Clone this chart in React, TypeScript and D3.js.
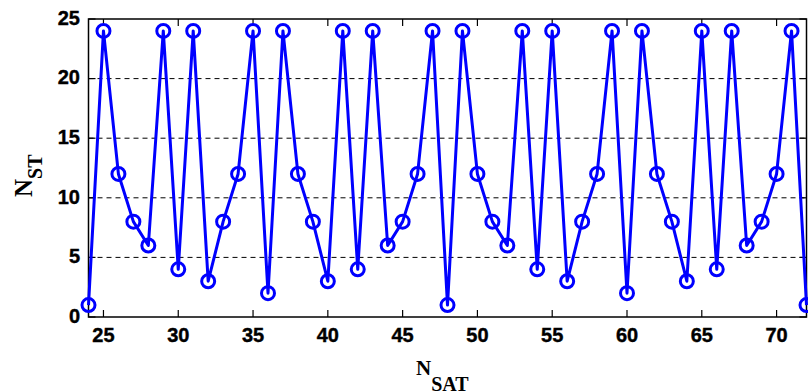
import React from "react";
import * as d3 from "d3";

const nSat: number[] = [
  24, 25, 26, 27, 28, 29, 30, 31, 32, 33, 34, 35, 36, 37, 38, 39, 40, 41, 42, 43, 44, 45, 46, 47, 48,
  49, 50, 51, 52, 53, 54, 55, 56, 57, 58, 59, 60, 61, 62, 63, 64, 65, 66, 67, 68, 69, 70, 71, 72,
];
const nSt: number[] = [
  1, 24, 12, 8, 6, 24, 4, 24, 3, 8, 12, 24, 2, 24, 12, 8, 3, 24, 4, 24, 6, 8, 12, 24, 1,
  24, 12, 8, 6, 24, 4, 24, 3, 8, 12, 24, 2, 24, 12, 8, 3, 24, 4, 24, 6, 8, 12, 24, 1,
];
const xTicks: number[] = [25, 30, 35, 40, 45, 50, 55, 60, 65, 70];
const yTicks: number[] = [0, 5, 10, 15, 20, 25];
const gridValues: number[] = [5, 10, 15, 20];

const W = 808;
const H = 391;
const L = 88.5, R = 806.5, T = 19, B = 317;

export default function App() {
  const x = d3.scaleLinear().domain([24, 72]).range([L, R]);
  const y = d3.scaleLinear().domain([0, 25]).range([B, T]);
  const pts = nSat.map((v, i) => [v, nSt[i]] as [number, number]);
  const line = d3.line<[number, number]>().x(d => x(d[0])).y(d => y(d[1]))(pts) || "";
  const tickFont = {
    fontFamily: "'Liberation Sans', Arial, sans-serif",
    fontWeight: 700,
    fontSize: 20,
    stroke: "#000",
    strokeWidth: 0.4,
  };
  const labFont = "'Liberation Serif', 'Times New Roman', serif";
  const tl = 7;
  return (
    <svg width={W} height={H} style={{ position: "absolute", left: 0, top: 0, background: "#fff" }}>
      <rect x={0} y={0} width={W} height={H} fill="#fff" />
      {gridValues.map(g => (
        <line key={"g" + g} x1={L} x2={R} y1={y(g)} y2={y(g)} stroke="#000" strokeWidth={1} strokeDasharray="5,4" />
      ))}
      <rect x={L} y={T} width={R - L} height={B - T} fill="none" stroke="#000" strokeWidth={1.5} />
      {xTicks.map(t => (
        <g key={"x" + t}>
          <line x1={x(t)} x2={x(t)} y1={B} y2={B - tl} stroke="#000" strokeWidth={1.2} />
          <line x1={x(t)} x2={x(t)} y1={T} y2={T + tl} stroke="#000" strokeWidth={1.2} />
          <text x={x(t)} y={342} textAnchor="middle" {...tickFont}>{t}</text>
        </g>
      ))}
      {yTicks.map(t => (
        <g key={"y" + t}>
          <line x1={L} x2={L + tl} y1={y(t)} y2={y(t)} stroke="#000" strokeWidth={1.2} />
          <line x1={R} x2={R - tl} y1={y(t)} y2={y(t)} stroke="#000" strokeWidth={1.2} />
          <text x={80} y={y(t) + 5.7} textAnchor="end" {...tickFont}>{t}</text>
        </g>
      ))}
      <path d={line} fill="none" stroke="#0000ff" strokeWidth={3} strokeLinejoin="round" />
      {pts.map((p, i) => (
        <circle key={"c" + i} cx={x(p[0])} cy={y(p[1])} r={6.5} fill="none" stroke="#0000ff" strokeWidth={3} />
      ))}
      <text x={416} y={375} fontFamily={labFont} fontWeight={700} fontSize={21}>
        N<tspan dy={16} fontSize={20}>SAT</tspan>
      </text>
      <text transform={`translate(32.3,197) rotate(-90)`} fontFamily={labFont} fontWeight={700} fontSize={25}>
        N<tspan dy={10} fontSize={20}>ST</tspan>
      </text>
    </svg>
  );
}
